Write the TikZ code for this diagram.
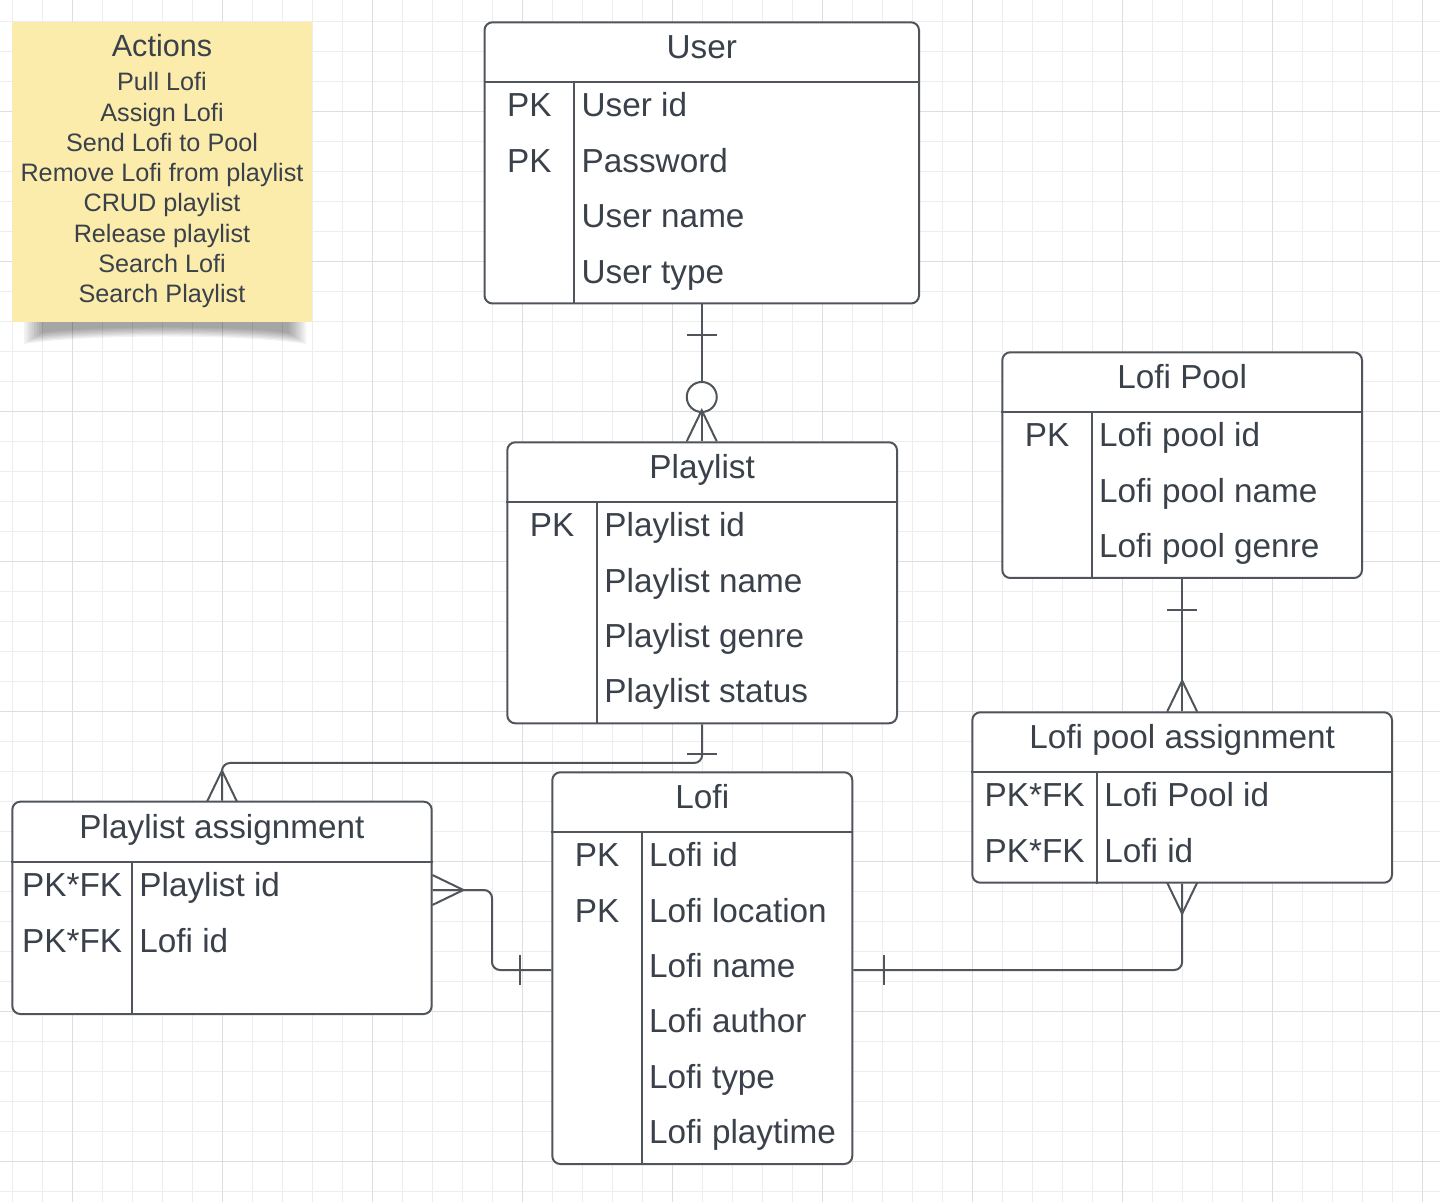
\documentclass[tikz,border=0pt]{standalone}
\usepackage{fontspec}
\setmainfont{Liberation Sans}
\usetikzlibrary{fit,calc}
\definecolor{inkline}{RGB}{80,85,92}
\definecolor{inktext}{RGB}{58,65,74}
\definecolor{notefill}{RGB}{251,236,172}
\tikzset{
    gridthin/.style={draw=black!7, line width=0.5pt},
    gridthick/.style={draw=black!13, line width=0.5pt},
    entity/.style={draw=inkline, fill=white, line width=1pt, rounded corners=4pt, inner sep=0pt},
    divider/.style={draw=inkline, line width=1pt},
    enttitle/.style={anchor=base, inner sep=0pt, text=inktext, font=\fontsize{16.65}{18}\selectfont},
    entkey/.style={enttitle},
    entattr/.style={enttitle, anchor=base west},
    relation/.style={draw=inkline, line width=1pt, rounded corners=4pt},
    notebox/.style={fill=notefill, inner sep=0pt},
    notehead/.style={anchor=base, inner sep=0pt, text=inktext, font=\fontsize{15.3}{17}\selectfont},
    noteline/.style={notehead, font=\fontsize{12.6}{14}\selectfont},
    crowfoot/.pic={\draw[inkline, line width=1pt] (-15,31) -- (0,0) -- (15,31);},
    onebar/.pic={\draw[inkline, line width=1pt] (-15,0) -- (15,0);}
}
\begin{document}
\begin{tikzpicture}[x=0.5pt, y=-0.5pt]
    \useasboundingbox[fill=white] (0,0) rectangle (1440,1202);
    \foreach \k in {0,...,47} \draw[gridthin] (12.3+30*\k,0) -- (12.3+30*\k,1202);
    \foreach \k in {0,...,39} \draw[gridthin] (0,21.7+30*\k) -- (1440,21.7+30*\k);
    \foreach \k in {0,...,9} \draw[gridthick] (72.3+150*\k,0) -- (72.3+150*\k,1202);
    \foreach \k in {0,...,7} \draw[gridthick] (0,111.7+150*\k) -- (1440,111.7+150*\k);

    % sticky note
    \foreach \s in {0,...,7}
        \fill[black, opacity=0.05] (24+2.5*\s,322) -- (306-2.5*\s,322) -- (306-2.5*\s,344-1.6*\s)
            .. controls (240,334-1.2*\s) and (90,334-1.2*\s) .. (24+2.5*\s,344-1.6*\s) -- cycle;
    \node[notebox, fit={(12.3,21.7) (311.7,321.7)}] (note) {};
    \node[notehead] (actions) at (note.north |- 0,56.7) {Actions};
    \foreach \a [count=\i] in {Pull Lofi, Assign Lofi, Send Lofi to Pool, Remove Lofi from playlist,
        CRUD playlist, Release playlist, Search Lofi, Search Playlist}
        \node[noteline] (action\i) at (162,60.76+30.24*\i) {\a};

    % user
    \node[entity, fit={(484.5,22.3) (919,303.5)}] (user) {};
    \draw[divider] (user.west |- 0,82) -- (user.east |- 0,82);
    \draw[divider] (574.3,82) -- (574.3,0 |- user.south);
    \node[enttitle] (user-t) at (user.north |- 0,58.8) {User};
    \foreach \k [count=\i] in {PK, PK} \node[entkey] (user-k\i) at (529.4,61.6+55.4*\i) {\k};
    \foreach \a [count=\i] in {User id, Password, User name, User type}
        \node[entattr] (user-a\i) at (581.3,61.6+55.4*\i) {\a};

    % playlist
    \node[entity, fit={(507.3,442.3) (897,723.3)}] (playlist) {};
    \draw[divider] (playlist.west |- 0,501.7) -- (playlist.east |- 0,501.7);
    \draw[divider] (597,501.7) -- (597,0 |- playlist.south);
    \node[enttitle] (playlist-t) at (playlist.north |- 0,478.8) {Playlist};
    \node[entkey] (playlist-k1) at (552.15,536.7) {PK};
    \foreach \a [count=\i] in {Playlist id, Playlist name, Playlist genre, Playlist status}
        \node[entattr] (playlist-a\i) at (604,481.3+55.4*\i) {\a};

    % playlist assignment
    \node[entity, fit={(12.3,801.7) (431.7,1014)}] (plassign) {};
    \draw[divider] (plassign.west |- 0,861.7) -- (plassign.east |- 0,861.7);
    \draw[divider] (132,861.7) -- (132,0 |- plassign.south);
    \node[enttitle] (plassign-t) at (plassign.north |- 0,838.2) {Playlist assignment};
    \foreach \k [count=\i] in {PK*FK, PK*FK} \node[entkey] (plassign-k\i) at (72.15,841.3+55.4*\i) {\k};
    \foreach \a [count=\i] in {Playlist id, Lofi id}
        \node[entattr] (plassign-a\i) at (139,841.3+55.4*\i) {\a};

    % lofi
    \node[entity, fit={(552.3,772.3) (852.3,1164)}] (lofi) {};
    \draw[divider] (lofi.west |- 0,831.7) -- (lofi.east |- 0,831.7);
    \draw[divider] (641.7,831.7) -- (641.7,0 |- lofi.south);
    \node[enttitle] (lofi-t) at (lofi.north |- 0,808.8) {Lofi};
    \foreach \k [count=\i] in {PK, PK} \node[entkey] (lofi-k\i) at (597,811.3+55.4*\i) {\k};
    \foreach \a [count=\i] in {Lofi id, Lofi location, Lofi name, Lofi author, Lofi type, Lofi playtime}
        \node[entattr] (lofi-a\i) at (648.7,811.3+55.4*\i) {\a};

    % lofi pool
    \node[entity, fit={(1002.3,352.3) (1362,578)}] (lofipool) {};
    \draw[divider] (lofipool.west |- 0,411.7) -- (lofipool.east |- 0,411.7);
    \draw[divider] (1091.7,411.7) -- (1091.7,0 |- lofipool.south);
    \node[enttitle] (lofipool-t) at (lofipool.north |- 0,388.8) {Lofi Pool};
    \node[entkey] (lofipool-k1) at (1047,446.7) {PK};
    \foreach \a [count=\i] in {Lofi pool id, Lofi pool name, Lofi pool genre}
        \node[entattr] (lofipool-a\i) at (1098.7,391.3+55.4*\i) {\a};

    % lofi pool assignment
    \node[entity, fit={(972.3,712.3) (1392,882.7)}] (poolassign) {};
    \draw[divider] (poolassign.west |- 0,771.7) -- (poolassign.east |- 0,771.7);
    \draw[divider] (1097,771.7) -- (1097,0 |- poolassign.south);
    \node[enttitle] (poolassign-t) at (poolassign.north |- 0,748.8) {Lofi pool assignment};
    \foreach \k [count=\i] in {PK*FK, PK*FK} \node[entkey] (poolassign-k\i) at (1034.65,751.3+55.4*\i) {\k};
    \foreach \a [count=\i] in {Lofi Pool id, Lofi id}
        \node[entattr] (poolassign-a\i) at (1104,751.3+55.4*\i) {\a};

    % relations
    \draw[relation] (user.south) -- (user.south |- playlist.north);
    \pic at ($(user.south)+(0,31)$) {onebar};
    \draw[inkline, fill=white, line width=1pt] ($(user.south)+(0,92.5)$) circle [radius=7.5pt];
    \pic at ($(user.south |- playlist.north)+(0,-31)$) {crowfoot};

    \draw[relation] (playlist.south) -- (playlist.south |- 0,763) -| (plassign.north);
    \pic at ($(playlist.south)+(0,30)$) {onebar};
    \pic at ($(plassign.north)+(0,-30)$) {crowfoot};

    \draw[relation] (lofi.west |- 0,970) -| (492,890) -- (plassign.east |- 0,890);
    \pic[rotate=90] at ($(lofi.west |- 0,970)+(-31.5,0)$) {onebar};
    \pic[rotate=-90] at ($(plassign.east |- 0,890)+(30.7,0)$) {crowfoot};

    \draw[relation] (lofi.east |- 0,970) -| (poolassign.south);
    \pic[rotate=90] at ($(lofi.east |- 0,970)+(30.5,0)$) {onebar};
    \pic[rotate=180] at ($(poolassign.south)+(0,30)$) {crowfoot};

    \draw[relation] (lofipool.south) -- (poolassign.north);
    \pic at ($(lofipool.south)+(0,31)$) {onebar};
    \pic at ($(poolassign.north)+(0,-30.6)$) {crowfoot};
\end{tikzpicture}
\end{document}
